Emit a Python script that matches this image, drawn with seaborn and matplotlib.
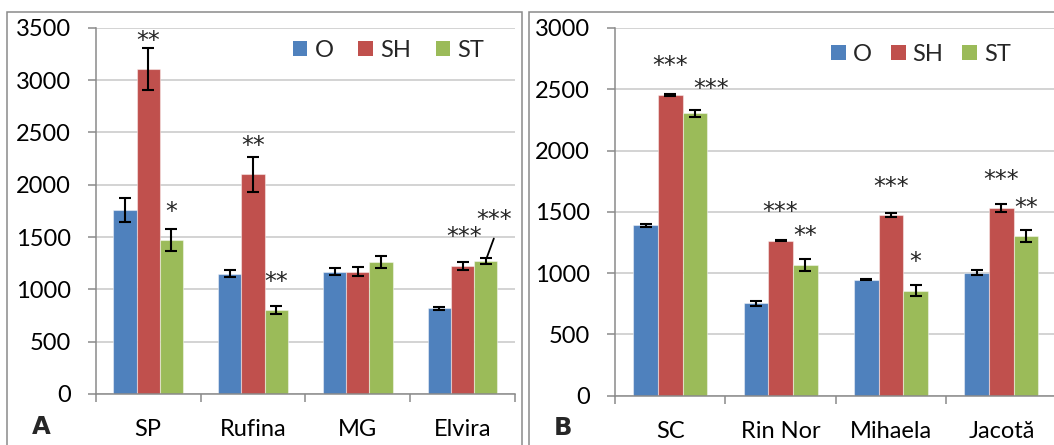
import matplotlib
matplotlib.use("Agg")
import matplotlib.pyplot as plt
from matplotlib.patches import Rectangle
import seaborn as sns
import pandas as pd

# ---- data -------------------------------------------------------------
series = ["O", "SH", "ST"]

cats_a = ["SP", "Rufina", "MG", "Elvira"]
o_a = [1760, 1150, 1170, 817]
sh_a = [3105, 2098, 1170, 1220]
st_a = [1472, 805, 1262, 1272]
o_a_err = [113, 33, 32, 12]
sh_a_err = [205, 166, 43, 37]
st_a_err = [102, 38, 54, 32]

cats_b = ["SC", "Rin Nor", "Mihaela", "Jacotă"]
o_b = [1390, 753, 948, 1003]
sh_b = [2457, 1266, 1473, 1529]
st_b = [2304, 1066, 856, 1302]
o_b_err = [10, 18, 8, 21]
sh_b_err = [8, 5, 16, 34]
st_b_err = [28, 46, 45, 50]

# significance marks: (category, series, label)
stars_a = [("SP", "SH", "**"), ("SP", "ST", "*"), ("Rufina", "SH", "**"),
           ("Rufina", "ST", "**"), ("Elvira", "SH", "***"), ("Elvira", "ST", "***")]
stars_b = [("SC", "SH", "***"), ("SC", "ST", "***"), ("Rin Nor", "SH", "***"),
           ("Rin Nor", "ST", "**"), ("Mihaela", "SH", "***"), ("Mihaela", "ST", "*"),
           ("Jacotă", "SH", "***"), ("Jacotă", "ST", "**")]

# ---- styling ----------------------------------------------------------
COLORS = ["#4F81BD", "#C0504D", "#9BBB59"]
AXIS_GRAY = "#8a8a8a"
GRID_GRAY = "#d0d0d0"
FS = 17
STAR_FS = 17
STAR_LIFT = -4  # asterisks sit high in their text box

sns.set_theme(style="white")
plt.rcParams["font.family"] = ["Lato", "DejaVu Sans"]

W, H = 1054, 445
fig = plt.figure(figsize=(W / 100, H / 100), dpi=100)


def frac(x0, y0, x1, y1):
    """pixel box (top-left origin) -> figure fraction rect"""
    return [x0 / W, 1 - y1 / H, (x1 - x0) / W, (y1 - y0) / H]


def long_frame(cats, vals, errs):
    rows = []
    for s, v, e in zip(series, vals, errs):
        for c, vi, ei in zip(cats, v, e):
            rows.append({"cat": c, "series": s, "value": vi, "err": ei})
    return pd.DataFrame(rows)


def panel(ax, df, cats, ymax, stars, star_offsets, legend_x, legend_y, colspace,
          width):
    sns.barplot(data=df, x="cat", y="value", hue="series", order=cats,
                hue_order=series, palette=COLORS, width=width, errorbar=None,
                edgecolor=(1, 1, 1, 0.45), linewidth=0.8, saturation=1,
                ax=ax, zorder=3)
    # error bars placed at the centres of the drawn bars
    bar_pos = {}
    patches = [p for p in ax.patches if p.get_height() > 0]
    i = 0
    for s in series:
        for c in cats:
            p = patches[i]
            i += 1
            bar_pos[(c, s)] = p.get_x() + p.get_width() / 2
    xs = [bar_pos[(r.cat, r.series)] for r in df.itertuples()]
    ax.errorbar(xs, df["value"], yerr=df["err"], fmt="none", ecolor="black",
                elinewidth=1.5, capsize=4.2, capthick=1.5, zorder=4)

    lookup = {(r.cat, r.series): (r.value, r.err) for r in df.itertuples()}
    for (c, s, lab), off in zip(stars, star_offsets):
        v, e = lookup[(c, s)]
        dx, dy = off[0], off[1] + STAR_LIFT
        ax.annotate(lab, xy=(bar_pos[(c, s)], v + e), xytext=(dx, dy),
                    textcoords="offset pixels", ha="center", va="center",
                    fontsize=STAR_FS, family="DejaVu Sans", zorder=5)
        if len(off) > 2:
            ax.annotate("", xy=(bar_pos[(c, s)] + 0.01, v + e),
                        xytext=(off[2], off[3]), textcoords="offset pixels",
                        arrowprops=dict(arrowstyle="-", color="black", lw=1.3,
                                        shrinkA=0, shrinkB=0), zorder=5)

    ax.set_ylim(0, ymax)
    ax.set_yticks(range(0, ymax + 1, 500))
    ax.set_xlim(-0.5, len(cats) - 0.5)
    ax.set_xticks(range(len(cats)))
    ax.set_xticklabels(cats)
    ax.set_xticks([k - 0.5 for k in range(len(cats) + 1)], minor=True)
    ax.set_xlabel("")
    ax.set_ylabel("")
    ax.grid(axis="y", color=GRID_GRAY, lw=1.3, zorder=0)
    ax.set_axisbelow(True)
    for sp in ["top", "right"]:
        ax.spines[sp].set_visible(False)
    for sp in ["left", "bottom"]:
        ax.spines[sp].set_color(AXIS_GRAY)
        ax.spines[sp].set_linewidth(1.1)
        ax.spines[sp].set_zorder(3.5)
    ax.tick_params(axis="y", which="major", left=True, length=6, width=1.1,
                   color=AXIS_GRAY, labelsize=FS, pad=12, labelcolor="black")
    ax.tick_params(axis="x", which="major", bottom=False, labelsize=FS, pad=12,
                   labelcolor="black")
    ax.tick_params(axis="x", which="minor", bottom=True, length=6, width=1.1,
                   color=AXIS_GRAY)

    leg = ax.legend(loc="center left", bbox_to_anchor=(legend_x, legend_y),
                    ncol=3, frameon=False, fontsize=FS, handlelength=0.62,
                    handleheight=0.62, handletextpad=0.3, columnspacing=colspace,
                    borderpad=0, borderaxespad=0)
    for h in leg.legend_handles:
        h.set_edgecolor("none")


df_a = long_frame(cats_a, [o_a, sh_a, st_a], [o_a_err, sh_a_err, st_a_err])
df_b = long_frame(cats_b, [o_b, sh_b, st_b], [o_b_err, sh_b_err, st_b_err])

# text offsets (pixels) from the top of each error bar; optional leader line end
offs_a = [(0, 11), (0, 21), (0, 15.5), (0, 28), (2, 29), (8, 42, 7, 19)]
offs_b = [(0, 31.5), (16, 24.6), (0, 31.5), (0, 27.7), (0, 30.3), (0, 27.5),
          (0, 28.5), (0, 26)]

ax_a = fig.add_axes(frac(95.7, 27.7, 515, 394))
panel(ax_a, df_a, cats_a, 3500, stars_a, offs_a, 0.47, 0.938, 1.05, 0.664)

ax_b = fig.add_axes(frac(615, 28, 1056.6, 395.7))
panel(ax_b, df_b, cats_b, 3000, stars_b, offs_b, 0.49, 0.928, 0.8, 0.67)

# panel frames
fig.patches.append(Rectangle((6.7 / W, -0.1), (521.7 - 6.7) / W, 1.1 - 12 / H,
                             transform=fig.transFigure, fill=False,
                             edgecolor=AXIS_GRAY, lw=1.1))
fig.patches.append(Rectangle((529.3 / W, -0.1), 0.6, 1.1 - 11.7 / H,
                             transform=fig.transFigure, fill=False,
                             edgecolor=AXIS_GRAY, lw=1.1))

for lab, x, y in [("A", 41.5, 427.5), ("B", 562.5, 428)]:
    fig.text(x / W, 1 - y / H, lab, fontsize=17.5, fontweight="bold",
             family="DejaVu Sans", ha="center", va="center")

fig.savefig("out.png", dpi=100)
